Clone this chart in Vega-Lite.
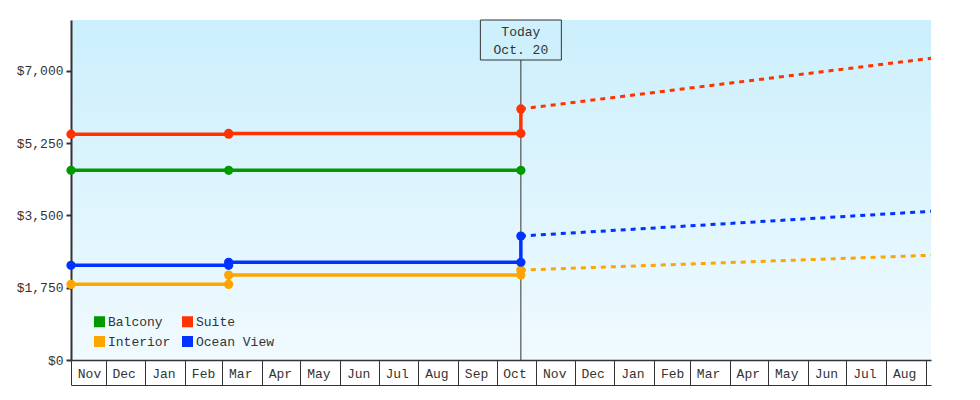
{
  "$schema": "https://vega.github.io/schema/vega-lite/v6.json",
  "width": 860,
  "height": 340,
  "autosize": {"type": "none"},
  "padding": {"left": 71, "top": 20, "right": 49, "bottom": 40},
  "background": "white",
  "view": {
    "stroke": null,
    "fill": {"gradient": "linear", "x1": 0, "y1": 0, "x2": 0, "y2": 1,
      "stops": [{"offset": 0, "color": "#cbeffc"}, {"offset": 1, "color": "#f0faff"}]}
  },
  "config": {
    "font": "Liberation Mono",
    "axis": {"labelFont": "Liberation Mono", "labelFontSize": 13, "labelColor": "#333", "domainColor": "#333", "tickColor": "#333", "grid": false, "title": null}
  },
  "datasets": {
    "prices": [
      {"room": "Balcony", "date": "2019-11-04", "price": 4590, "kind": "actual", "seq": 1},
      {"room": "Balcony", "date": "2020-03-06", "price": 4590, "kind": "actual", "seq": 2},
      {"room": "Balcony", "date": "2020-10-20", "price": 4590, "kind": "actual", "seq": 3},
      {"room": "Suite", "date": "2019-11-04", "price": 5465, "kind": "actual", "seq": 1},
      {"room": "Suite", "date": "2020-03-06", "price": 5465, "kind": "actual", "seq": 2},
      {"room": "Suite", "date": "2020-03-06", "price": 5482, "kind": "actual", "seq": 3},
      {"room": "Suite", "date": "2020-10-20", "price": 5482, "kind": "actual", "seq": 4},
      {"room": "Suite", "date": "2020-10-20", "price": 6075, "kind": "actual", "seq": 5},
      {"room": "Suite", "date": "2020-10-20", "price": 6075, "kind": "forecast", "seq": 6},
      {"room": "Suite", "date": "2021-09-05", "price": 7300, "kind": "forecast", "seq": 7},
      {"room": "Interior", "date": "2019-11-04", "price": 1830, "kind": "actual", "seq": 1},
      {"room": "Interior", "date": "2020-03-06", "price": 1830, "kind": "actual", "seq": 2},
      {"room": "Interior", "date": "2020-03-06", "price": 2055, "kind": "actual", "seq": 3},
      {"room": "Interior", "date": "2020-10-20", "price": 2055, "kind": "actual", "seq": 4},
      {"room": "Interior", "date": "2020-10-20", "price": 2175, "kind": "actual", "seq": 5},
      {"room": "Interior", "date": "2020-10-20", "price": 2175, "kind": "forecast", "seq": 6},
      {"room": "Interior", "date": "2021-09-05", "price": 2535, "kind": "forecast", "seq": 7},
      {"room": "Ocean View", "date": "2019-11-04", "price": 2290, "kind": "actual", "seq": 1},
      {"room": "Ocean View", "date": "2020-03-06", "price": 2290, "kind": "actual", "seq": 2},
      {"room": "Ocean View", "date": "2020-03-06", "price": 2365, "kind": "actual", "seq": 3},
      {"room": "Ocean View", "date": "2020-10-20", "price": 2365, "kind": "actual", "seq": 4},
      {"room": "Ocean View", "date": "2020-10-20", "price": 3000, "kind": "actual", "seq": 5},
      {"room": "Ocean View", "date": "2020-10-20", "price": 3000, "kind": "forecast", "seq": 6},
      {"room": "Ocean View", "date": "2021-09-05", "price": 3598, "kind": "forecast", "seq": 7}
    ],
    "today": [
      {"date": "2020-10-20", "label": ["Today", "Oct. 20"]}
    ]
  },
  "resolve": {"axis": {"x": "independent"}},
  "layer": [
    {
      "data": {"name": "today"},
      "mark": {"type": "rule", "color": "#333", "strokeWidth": 1},
      "encoding": {
        "x": {"field": "date", "type": "temporal",
          "scale": {"type": "utc", "padding": 0, "domain": [{"year": 2019, "month": 11, "date": 4, "utc": true}, {"year": 2021, "month": 9, "date": 5, "utc": true}]},
          "axis": {"orient": "bottom", "offset": 25, "domain": true, "domainWidth": 1, "ticks": false, "labels": false, "title": null}}
      }
    },
    {
      "data": {"name": "today"},
      "mark": {"type": "bar", "width": 81, "fill": "#cdf0fc", "stroke": "#333", "strokeWidth": 1},
      "encoding": {
        "x": {"field": "date", "type": "temporal", "axis": null},
        "y": {"datum": 8227, "type": "quantitative"},
        "y2": {"datum": 7259}
      }
    },
    {
      "data": {"name": "today"},
      "mark": {"type": "text", "align": "center", "baseline": "middle", "fontSize": 13, "lineHeight": 18, "color": "#333", "font": "Liberation Mono"},
      "encoding": {
        "x": {"field": "date", "type": "temporal", "axis": null},
        "y": {"datum": 7936, "type": "quantitative"},
        "text": {"field": "label"}
      }
    },
    {
      "data": {"name": "prices"},
      "transform": [{"filter": "datum.kind === 'actual'"}],
      "mark": {"type": "point", "filled": true, "shape": "circle", "size": 85, "opacity": 1},
      "encoding": {
        "x": {"field": "date", "type": "temporal",
          "axis": {
            "orient": "bottom",
            "values": [
              {"year": 2019, "month": 11, "date": 4, "utc": true},
              {"year": 2019, "month": 12, "date": 1, "utc": true},
              {"year": 2020, "month": 1, "date": 1, "utc": true},
              {"year": 2020, "month": 2, "date": 1, "utc": true},
              {"year": 2020, "month": 3, "date": 1, "utc": true},
              {"year": 2020, "month": 4, "date": 1, "utc": true},
              {"year": 2020, "month": 5, "date": 1, "utc": true},
              {"year": 2020, "month": 6, "date": 1, "utc": true},
              {"year": 2020, "month": 7, "date": 1, "utc": true},
              {"year": 2020, "month": 8, "date": 1, "utc": true},
              {"year": 2020, "month": 9, "date": 1, "utc": true},
              {"year": 2020, "month": 10, "date": 1, "utc": true},
              {"year": 2020, "month": 11, "date": 1, "utc": true},
              {"year": 2020, "month": 12, "date": 1, "utc": true},
              {"year": 2021, "month": 1, "date": 1, "utc": true},
              {"year": 2021, "month": 2, "date": 1, "utc": true},
              {"year": 2021, "month": 3, "date": 1, "utc": true},
              {"year": 2021, "month": 4, "date": 1, "utc": true},
              {"year": 2021, "month": 5, "date": 1, "utc": true},
              {"year": 2021, "month": 6, "date": 1, "utc": true},
              {"year": 2021, "month": 7, "date": 1, "utc": true},
              {"year": 2021, "month": 8, "date": 1, "utc": true},
              {"year": 2021, "month": 9, "date": 1, "utc": true}
            ],
            "labelExpr": "datum.value > utc(2021, 7, 15) ? '' : utcFormat(datum.value, '%b')",
            "domainWidth": 1.5,
            "tickSize": 25,
            "tickWidth": 1,
            "labelOffset": 18,
            "labelPadding": -12,
            "labelBaseline": "middle",
            "labelOverlap": false,
            "labelFlush": false,
            "labelBound": false,
            "title": null
          }},
        "y": {"field": "price", "type": "quantitative",
          "scale": {"domain": [0, 8227], "nice": false, "zero": true},
          "axis": {"values": [0, 1750, 3500, 5250, 7000], "format": "$,.0f", "domainWidth": 2, "tickWidth": 2, "tickSize": 5, "labelPadding": 3, "title": null}},
        "color": {"field": "room", "type": "nominal",
          "scale": {"domain": ["Balcony", "Suite", "Interior", "Ocean View"], "range": ["#009900", "#ff3300", "#ffa500", "#0033ff"]},
          "legend": {"orient": "none", "legendX": 22, "legendY": 295, "columns": 2, "direction": "horizontal", "title": null,
            "symbolType": "square", "symbolSize": 121, "symbolStrokeWidth": 0, "symbolOpacity": 1,
            "labelFont": "Liberation Mono", "labelFontSize": 13, "labelColor": "#333", "labelOffset": 2,
            "columnPadding": 10, "rowPadding": 6, "padding": 0}}
      }
    },
    {
      "data": {"name": "prices"},
      "transform": [{"filter": "datum.kind === 'actual'"}],
      "mark": {"type": "line", "strokeWidth": 3.5},
      "encoding": {
        "x": {"field": "date", "type": "temporal", "axis": null},
        "y": {"field": "price", "type": "quantitative"},
        "color": {"field": "room", "type": "nominal", "legend": null},
        "order": {"field": "seq", "type": "quantitative"}
      }
    },
    {
      "data": {"name": "prices"},
      "transform": [{"filter": "datum.kind === 'forecast'"}],
      "mark": {"type": "line", "strokeWidth": 3, "strokeDash": [5, 5]},
      "encoding": {
        "x": {"field": "date", "type": "temporal", "axis": null},
        "y": {"field": "price", "type": "quantitative"},
        "color": {"field": "room", "type": "nominal", "legend": null},
        "order": {"field": "seq", "type": "quantitative"}
      }
    }
  ]
}
